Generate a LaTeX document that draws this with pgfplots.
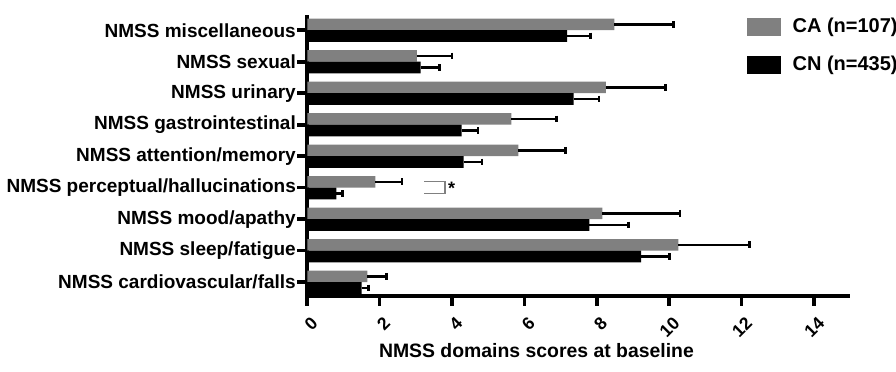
\documentclass[border=0pt]{standalone}
\usepackage{fontspec}
\setmainfont{Liberation Sans}
\usepackage{pgfplots}
\pgfplotsset{compat=1.18}
\begin{document}
\begin{tikzpicture}
\path[use as bounding box] (-153.65pt,-37.65pt) rectangle (294.35pt,147.85pt);
\begin{axis}[
  scale only axis, width=271.5pt, height=140.3pt,
  xbar, bar width=5.8pt,
  xmin=0, xmax=15, ymin=-0.43, ymax=8.48,
  axis x line*=bottom, axis y line*=left,
  axis line style={line width=1.8pt},
  xtick={0,2,...,14},
  ytick={0,...,8},
  yticklabels={NMSS cardiovascular/falls, NMSS sleep/fatigue, NMSS mood/apathy, NMSS perceptual/hallucinations, NMSS attention/memory, NMSS gastrointestinal, NMSS urinary, NMSS sexual, NMSS miscellaneous},
  tick style={line width=1.8pt, black},
  major tick length=5pt,
  tick align=outside,
  /pgf/number format/assume math mode=true,
  xticklabel style={rotate=45, anchor=north east, xshift=1pt, yshift=-1pt, font=\bfseries\fontsize{8.8}{10}\selectfont},
  yticklabel style={font=\bfseries\fontsize{9.5}{10}\selectfont, xshift=2.8pt},
  xlabel={NMSS domains scores at baseline},
  xlabel style={at={(rel axis cs:0.422,0)}, anchor=base, yshift=-30.9pt, font=\bfseries\fontsize{9.7}{12}\selectfont},
  legend style={at={(rel axis cs:0.809,1.005)}, anchor=north west, draw=none, fill=none,
    font=\bfseries\fontsize{10}{12}\selectfont, row sep=6.2pt, cells={anchor=west},
    inner sep=0pt},
  legend image code/.code={\fill[#1] (0pt,-4.6pt) rectangle (17pt,4.6pt); \path (20.8pt,0pt);},
  error bars/error bar style={line width=1.2pt, black},
  error bars/error mark options={line width=1.3pt, black, mark size=1.7pt, rotate=90},
]
\addplot[fill=gray, draw=none, bar shift=2.9pt,
  error bars/.cd, x dir=plus, x explicit]
coordinates {
(1.66,0) +- (0.53,0)
(10.25,1) +- (1.97,0)
(8.15,2) +- (2.15,0)
(1.88,3) +- (0.74,0)
(5.83,4) +- (1.30,0)
(5.64,5) +- (1.25,0)
(8.25,6) +- (1.65,0)
(3.03,7) +- (0.97,0)
(8.48,8) +- (1.63,0)
};
\addlegendentry{CA (n=107)}
\addplot[fill=black, draw=none, bar shift=-2.9pt,
  error bars/.cd, x dir=plus, x explicit]
coordinates {
(1.50,0) +- (0.19,0)
(9.22,1) +- (0.78,0)
(7.79,2) +- (1.08,0)
(0.80,3) +- (0.17,0)
(4.32,4) +- (0.51,0)
(4.26,5) +- (0.46,0)
(7.36,6) +- (0.70,0)
(3.13,7) +- (0.52,0)
(7.18,8) +- (0.65,0)
};
\addlegendentry{CN (n=435)}
\draw[gray, line width=0.8pt] (axis cs:3.23,3.2) -- (axis cs:3.8,3.2) -- (axis cs:3.8,2.82) -- (axis cs:3.23,2.82);
\node[font=\bfseries\fontsize{9}{10}\selectfont] at (axis cs:3.99,2.98) {*};
\end{axis}
\end{tikzpicture}
\end{document}
